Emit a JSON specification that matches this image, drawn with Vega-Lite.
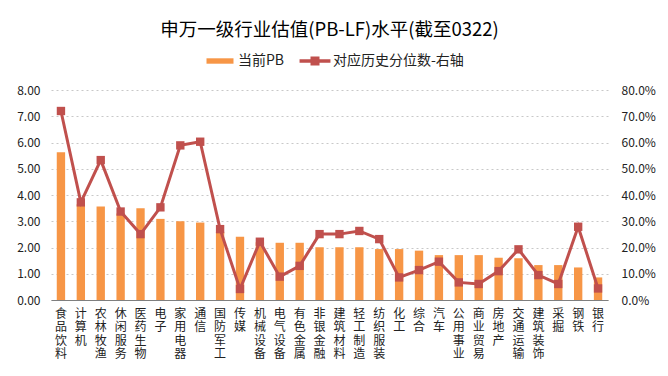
{
  "$schema": "https://vega.github.io/schema/vega-lite/v6.json",
  "autosize": {"type": "none"},
  "padding": {"left": 51, "top": 90, "right": 60, "bottom": 76},
  "width": 557,
  "height": 210,
  "background": "white",
  "title": {"text": "申万一级行业估值(PB-LF)水平(截至0322)", "fontSize": 18.5, "fontWeight": "normal", "font": "Noto Sans CJK SC", "color": "#000000", "offset": 7, "anchor": "middle"},
  "config": {
    "view": {"stroke": null},
    "font": "Noto Sans CJK SC",
    "axis": {"labelFont": "Noto Sans CJK SC", "labelColor": "#222222", "labelFontSize": 12}
  },
  "data": {"values": [
    {"行业": "食品饮料", "PB": 5.63, "分位数": 0.720},
    {"行业": "计算机", "PB": 3.65, "分位数": 0.372},
    {"行业": "农林牧渔", "PB": 3.56, "分位数": 0.533},
    {"行业": "休闲服务", "PB": 3.30, "分位数": 0.337},
    {"行业": "医药生物", "PB": 3.50, "分位数": 0.251},
    {"行业": "电子", "PB": 3.09, "分位数": 0.353},
    {"行业": "家用电器", "PB": 3.00, "分位数": 0.589},
    {"行业": "通信", "PB": 2.95, "分位数": 0.603},
    {"行业": "国防军工", "PB": 2.60, "分位数": 0.270},
    {"行业": "传媒", "PB": 2.41, "分位数": 0.042},
    {"行业": "机械设备", "PB": 2.20, "分位数": 0.222},
    {"行业": "电气设备", "PB": 2.18, "分位数": 0.089},
    {"行业": "有色金属", "PB": 2.18, "分位数": 0.130},
    {"行业": "非银金融", "PB": 2.01, "分位数": 0.251},
    {"行业": "建筑材料", "PB": 2.01, "分位数": 0.251},
    {"行业": "轻工制造", "PB": 2.01, "分位数": 0.263},
    {"行业": "纺织服装", "PB": 1.94, "分位数": 0.232},
    {"行业": "化工", "PB": 1.94, "分位数": 0.086},
    {"行业": "综合", "PB": 1.88, "分位数": 0.114},
    {"行业": "汽车", "PB": 1.71, "分位数": 0.146},
    {"行业": "公用事业", "PB": 1.71, "分位数": 0.067},
    {"行业": "商业贸易", "PB": 1.71, "分位数": 0.061},
    {"行业": "房地产", "PB": 1.61, "分位数": 0.110},
    {"行业": "交通运输", "PB": 1.59, "分位数": 0.193},
    {"行业": "建筑装饰", "PB": 1.33, "分位数": 0.095},
    {"行业": "采掘", "PB": 1.33, "分位数": 0.061},
    {"行业": "钢铁", "PB": 1.24, "分位数": 0.279},
    {"行业": "银行", "PB": 0.86, "分位数": 0.044}
  ]},
  "encoding": {
    "x": {"field": "行业", "type": "nominal", "sort": null,
      "scale": {"paddingInner": 0.58, "paddingOuter": 0.29},
      "axis": {"title": null, "labelAngle": 0, "labelAlign": "center", "labelBaseline": "top", "labelExpr": "split(datum.label, '')", "labelLineHeight": 13.5, "labelPadding": 8, "ticks": false, "domainColor": "#7f7f7f", "domainWidth": 1.2, "labelFontSize": 12, "grid": false}}
  },
  "layer": [
    {
      "mark": {"type": "bar", "color": "#F79646"},
      "encoding": {
        "y": {"field": "PB", "type": "quantitative", "scale": {"domain": [0, 8]},
          "axis": {"title": null, "format": ".2f", "values": [0,1,2,3,4,5,6,7,8], "ticks": false, "domain": false, "labelPadding": 11, "grid": true, "gridDash": [2, 3], "gridColor": "#c8c8c8", "gridWidth": 1}},
        "color": {"datum": "当前PB", "type": "nominal",
          "scale": {"domain": ["当前PB", "对应历史分位数-右轴"], "range": ["#F79646", "#C0504D"]},
          "legend": {"orient": "none", "legendX": 154, "legendY": -44, "title": null, "direction": "horizontal",
            "labelFontSize": 14, "labelColor": "#222222", "symbolSize": 900, "labelOffset": 3, "columnPadding": 14, "symbolStrokeWidth": 0,
            "encode": {"symbols": {"update": {
              "shape": {"signal": "datum.value === '当前PB' ? 'M-0.9,-0.18H0.9V0.18H-0.9Z' : 'M-1.03,-0.12H-0.3V-0.3H0.3V-0.12H1.03V0.12H0.3V0.3H-0.3V0.12H-1.03Z'"},
              "fill": {"scale": "color", "field": "value"},
              "stroke": {"value": "transparent"},
              "strokeWidth": {"value": 0},
              "opacity": {"value": 1}
            }}}}}
      }
    },
    {
      "mark": {"type": "line", "strokeWidth": 3, "point": {"shape": "square", "size": 70, "filled": true, "opacity": 1}},
      "encoding": {
        "y": {"field": "分位数", "type": "quantitative", "scale": {"domain": [0, 0.8]},
          "axis": {"title": null, "orient": "right", "format": ".1%", "values": [0,0.1,0.2,0.3,0.4,0.5,0.6,0.7,0.8], "ticks": false, "domain": false, "grid": false, "labelPadding": 13}},
        "color": {"datum": "对应历史分位数-右轴", "type": "nominal"}
      }
    }
  ],
  "resolve": {"scale": {"y": "independent"}}
}
